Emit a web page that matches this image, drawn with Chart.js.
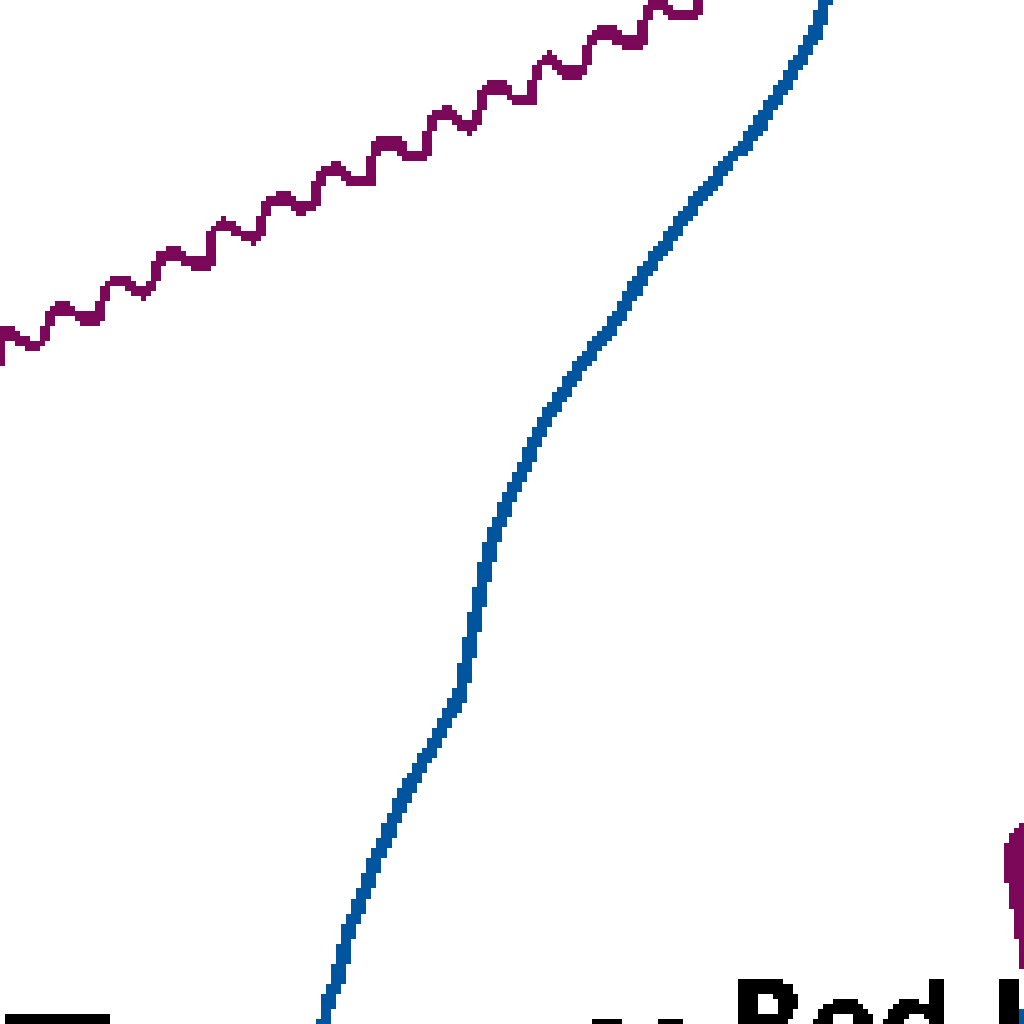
<!DOCTYPE html>
<html>
<head>
<meta charset="utf-8">
<title>Chart crop</title>
<script src="https://cdn.jsdelivr.net/npm/chart.js@4.4.1/dist/chart.umd.min.js"></script>
<style>
  html, body { margin: 0; padding: 0; background: #ffffff; overflow: hidden; }
  #wrap { position: relative; width: 1024px; height: 1024px; }
  #chart { image-rendering: pixelated; filter: url(#crisp); }
</style>
</head>
<body>
<!-- hard edges, like the upscaled reference -->
<svg width="0" height="0" style="position:absolute">
  <filter id="crisp" color-interpolation-filters="sRGB">
    <feComponentTransfer>
      <feFuncA type="discrete" tableValues="0 1"/>
    </feComponentTransfer>
  </filter>
</svg>
<div id="wrap"><canvas id="chart"></canvas></div>
<script>
// purple seasonal series (x, y in the crop's own units, y up)
const purpleX = [-3, 3, 8, 17, 27, 33, 42, 47, 52, 56, 70, 75, 82, 99, 102, 106, 111, 127, 132, 143,
  150, 155, 159, 165, 178, 183, 190, 208, 210, 214, 222, 232, 242, 252, 260, 264, 268, 276, 288, 292,
  297, 312, 318, 323, 328, 338, 340, 347, 355, 368, 372, 375, 377, 397, 400, 405, 422, 424, 428, 433,
  438, 447, 450, 458, 467, 474, 478, 482, 487, 505, 507, 513, 530, 532, 536, 542, 547, 555, 560, 580,
  582, 585, 590, 595, 613, 615, 620, 640, 641, 643, 647, 652, 663, 668, 692, 695, 699];
const purpleY = [658, 691, 694, 687, 682, 677, 682, 699, 712, 717, 717, 711, 706, 706, 721, 737, 743, 743, 736, 731,
  737, 752, 767, 772, 772, 766, 761, 761, 786, 796, 803, 797, 791, 786, 792, 817, 825, 827, 827, 822,
  816, 817, 844, 852, 856, 856, 851, 846, 841, 842, 867, 879, 881, 881, 876, 870, 870, 876, 897, 906,
  912, 912, 906, 901, 895, 903, 916, 931, 936, 936, 929, 925, 925, 941, 957, 964, 967, 961, 951, 951,
  957, 974, 986, 991, 991, 986, 981, 981, 989, 1006, 1016, 1021, 1016, 1009, 1009, 1020, 1044];

// blue smooth series
const blueX = [322, 327, 337, 342, 348, 358, 367, 373, 382, 392, 402, 413, 427, 438, 450, 458, 463, 468, 473, 478,
  483, 488, 495, 502, 510, 517, 527, 537, 548, 562, 577, 592, 607, 622, 637, 650, 665, 680, 697, 713,
  728, 743, 757, 770, 785, 800, 812, 819, 826];
const blueY = [-6, 24, 51, 71, 97, 124, 144, 164, 184, 207, 231, 251, 274, 296, 317, 334, 357, 381, 404, 431,
  454, 477, 497, 517, 534, 547, 571, 594, 614, 634, 657, 677, 694, 717, 744, 764, 784, 807, 827, 847,
  867, 881, 901, 921, 944, 971, 991, 1013, 1044];

// purple marker edge at the right border (filled out to the border)
const markX = [1028, 1018, 1008, 1003, 1003, 1007, 1011, 1015, 1019, 1021];
const markY = [207, 200, 192, 180, 152, 134, 112, 89, 69, 48];

// legend bits along the bottom edge
const keyBlackX = [6, 112];
const keyBlackY = [0, 0];
const keyBlueX = [1021, 1021];
const keyBlueY = [22, -10];

const captions = ["Red l", "se"];

const PURPLE = "#7b0859";
const BLUE = "#00559e";

function pts(xs, ys) {
  return xs.map((x, i) => ({ x: x, y: ys[i] }));
}

// caption text, placed through the chart scales
const captionPlugin = {
  id: "captions",
  afterDatasetsDraw(chart) {
    const { ctx, scales } = chart;
    const spots = [
      { text: captions[0], x: 726, y: -31 },
      { text: captions[1], x: 572, y: -50 }
    ];
    ctx.save();
    ctx.fillStyle = "#000000";
    ctx.font = "bold 104px 'DejaVu Sans'";
    ctx.textBaseline = "alphabetic";
    spots.forEach((s) => {
      ctx.fillText(s.text, scales.x.getPixelForValue(s.x), scales.y.getPixelForValue(s.y));
    });
    ctx.restore();
  }
};

new Chart(document.getElementById("chart"), {
  type: "line",
  data: {
    datasets: [
      {
        data: pts(blueX, blueY),
        borderColor: BLUE,
        borderWidth: 14,
        tension: 0.3,
        pointRadius: 0
      },
      {
        data: pts(purpleX, purpleY),
        borderColor: PURPLE,
        borderWidth: 10,
        tension: 0,
        pointRadius: 0
      },
      {
        data: pts(markX, markY),
        indexAxis: "y",
        borderColor: PURPLE,
        backgroundColor: PURPLE,
        borderWidth: 5,
        tension: 0.3,
        pointRadius: 0,
        fill: { value: 1040 }
      },
      {
        data: pts(keyBlackX, keyBlackY),
        borderColor: "#000000",
        borderWidth: 26,
        borderCapStyle: "butt",
        pointRadius: 0
      },
      {
        data: pts(keyBlueX, keyBlueY),
        borderColor: BLUE,
        borderWidth: 8,
        borderCapStyle: "butt",
        pointRadius: 0
      }
    ]
  },
  options: {
    responsive: true,
    maintainAspectRatio: false,
    animation: false,
    devicePixelRatio: 0.2,
    // no automatic inset: the crop runs right to the canvas edges
    layout: { padding: 0, autoPadding: false },
    plugins: {
      legend: { display: false },
      title: { display: false },
      tooltip: { enabled: false }
    },
    scales: {
      x: { type: "linear", min: 0, max: 1024, display: false },
      y: { type: "linear", min: 0, max: 1024, display: false }
    }
  },
  plugins: [captionPlugin]
});
</script>
</body>
</html>
